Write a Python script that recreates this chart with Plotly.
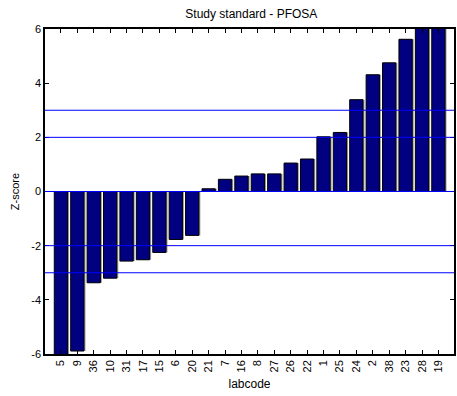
import plotly.graph_objects as go

labcodes = ["5", "9", "36", "10", "31", "17", "15", "6", "20", "21", "7", "16",
            "8", "27", "26", "22", "1", "25", "24", "2", "38", "23", "28", "19"]
zscores = [-6.4, -5.89, -3.37, -3.20, -2.57, -2.52, -2.25, -1.77, -1.62, 0.10, 0.45, 0.57,
           0.65, 0.65, 1.05, 1.20, 2.02, 2.18, 3.39, 4.31, 4.75, 5.62, 6.5, 7.2]
limit_lines = [3, 2, 0, -2, -3]
y_ticks = [-6, -4, -2, 0, 2, 4, 6]

x = list(range(len(labcodes)))
bw = 0.81

fig = go.Figure()
# shadow
fig.add_trace(go.Bar(x=x, y=zscores, width=bw, offset=-bw / 2 + 0.09,
                     marker=dict(color="#9a9a9a", line=dict(width=0)),
                     hoverinfo="skip", showlegend=False))
fig.add_trace(go.Bar(x=x, y=zscores, width=bw, offset=-bw / 2,
                     marker=dict(color="#000080", line=dict(color="black", width=1)),
                     showlegend=False))

for v in limit_lines:
    fig.add_hline(y=v, line=dict(color="#0000ff", width=1), layer="above")

fig.update_layout(
    width=457, height=396,
    margin=dict(l=45, r=1, t=29, b=42),
    paper_bgcolor="white", plot_bgcolor="white",
    barmode="overlay",
    font=dict(family="Liberation Sans, Arial, sans-serif", size=11, color="black"),
    title=dict(text="Study standard - PFOSA", x=0.55, xanchor="center", y=0.965, yanchor="middle",
               font=dict(size=12)),
)
fig.update_xaxes(
    range=[-0.97, 23.95], tickvals=x, ticktext=labcodes, tickangle=-90,
    ticks="inside", ticklen=4, tickcolor="black", showline=True, linecolor="black",
    linewidth=1.5, mirror="ticks", showgrid=False, zeroline=False,
    title=dict(text="labcode", font=dict(size=12), standoff=8),
)
fig.update_yaxes(
    range=[-6, 6], tickvals=y_ticks, ticktext=[str(v) for v in y_ticks],
    ticks="inside", ticklen=4, tickcolor="black", showline=True, linecolor="black",
    linewidth=1.5, mirror="ticks", showgrid=False, zeroline=False,
    title=dict(text="Z-score", font=dict(size=11), standoff=9),
)

fig.write_html("out.html")
